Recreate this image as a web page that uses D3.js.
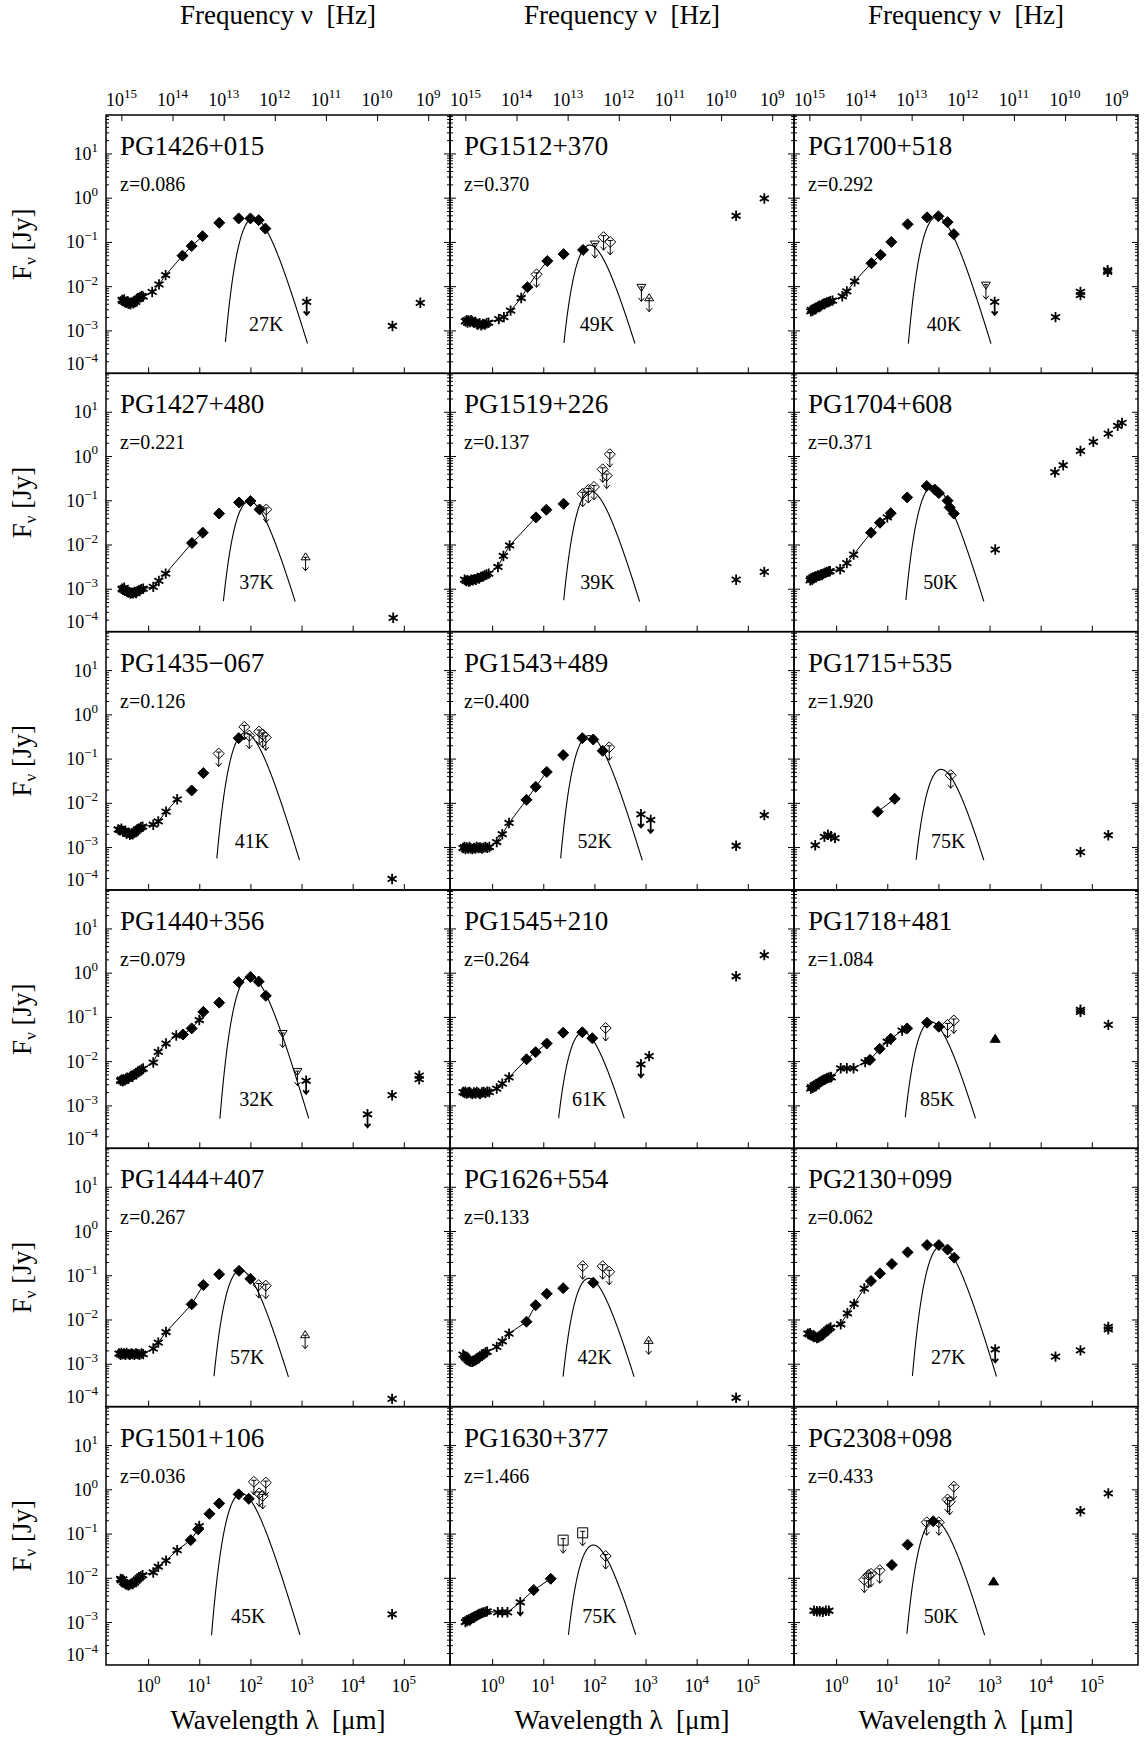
<!DOCTYPE html>
<html>
<head>
<meta charset="utf-8">
<script src="https://cdn.jsdelivr.net/npm/d3@7"></script>
<style>
  html, body { margin: 0; padding: 0; background: #fff; }
  svg text { font-family: "Liberation Serif", "Times New Roman", serif; fill: #000; }
</style>
</head>
<body>
<svg id="chart" width="1147" height="1742"></svg>
<script>
// ---- object list (reading order: 6 rows x 3 columns) ----
const names = ["PG1426+015", "PG1512+370", "PG1700+518",
               "PG1427+480", "PG1519+226", "PG1704+608",
               "PG1435\u2212067", "PG1543+489", "PG1715+535",
               "PG1440+356", "PG1545+210", "PG1718+481",
               "PG1444+407", "PG1626+554", "PG2130+099",
               "PG1501+106", "PG1630+377", "PG2308+098"];
const redshifts = ["0.086", "0.370", "0.292", "0.221", "0.137", "0.371",
                   "0.126", "0.400", "1.920", "0.079", "0.264", "1.084",
                   "0.267", "0.133", "0.062", "0.036", "1.466", "0.433"];
// cold dust temperature of the fitted greybody (K) and its peak flux (Jy)
const dustTemps = [27, 49, 40, 37, 39, 50, 41, 52, 75, 32, 61, 85, 57, 42, 27, 45, 75, 50];
const dustPeaks = [0.35, 0.085, 0.37, 0.095, 0.16, 0.21, 0.38, 0.33, 0.057, 0.85, 0.045, 0.078,
                   0.13, 0.085, 0.46, 0.81, 0.055, 0.20];
// wavelength (um) where each temperature label sits
const labelLambda = [205, 112, 129, 132, 115, 110, 107, 102, 155, 132, 79, 95, 87, 102, 155, 91, 126, 112];

// ---- photometry: [wavelength um, flux Jy, symbol] ----
// ast = asterisk, dia = filled diamond, diaU = open diamond upper limit,
// triDU = open down-triangle upper limit, triUU = open up-triangle upper limit,
// astU = asterisk upper limit, sqU = open square upper limit, triF = filled triangle
const pg1426 = [
  [0.31,4.9e-3,"ast"],[0.32,4.6e-3,"ast"],[0.34,5.0e-3,"ast"],[0.35,4.4e-3,"ast"],[0.37,4.2e-3,"ast"],
  [0.39,4.5e-3,"ast"],[0.41,4.0e-3,"ast"],[0.43,4.2e-3,"ast"],[0.45,3.9e-3,"ast"],[0.48,4.3e-3,"ast"],
  [0.51,4.1e-3,"ast"],[0.54,4.6e-3,"ast"],[0.57,4.4e-3,"ast"],[0.61,5.0e-3,"ast"],[0.65,5.3e-3,"ast"],
  [0.70,5.7e-3,"ast"],[0.75,6.0e-3,"ast"],[0.80,5.8e-3,"ast"],
  [1.2,7.4e-3,"ast"],[1.63,0.011,"ast"],[2.2,0.0178,"ast"],
  [4.7,0.049,"dia"],[7.1,0.081,"dia"],[11.6,0.135,"dia"],[24.6,0.27,"dia"],[59,0.34,"dia"],
  [100,0.34,"dia"],[145,0.31,"dia"],[196,0.20,"dia"],
  [1260,4.4e-3,"astU"],[6.0e4,1.26e-3,"ast"],[2.1e5,4.2e-3,"ast"]];
const pg1512 = [
  [0.30,1.6e-3,"ast"],[0.32,1.7e-3,"ast"],[0.33,1.5e-3,"ast"],[0.35,1.65e-3,"ast"],[0.37,1.55e-3,"ast"],
  [0.39,1.7e-3,"ast"],[0.41,1.6e-3,"ast"],[0.44,1.5e-3,"ast"],[0.47,1.55e-3,"ast"],[0.50,1.4e-3,"ast"],
  [0.53,1.35e-3,"ast"],[0.57,1.45e-3,"ast"],[0.61,1.3e-3,"ast"],[0.66,1.4e-3,"ast"],[0.72,1.35e-3,"ast"],
  [0.78,1.45e-3,"ast"],[0.85,1.5e-3,"ast"],
  [1.35,1.8e-3,"ast"],[1.7,2.0e-3,"ast"],[2.3,2.8e-3,"ast"],[3.7,5.4e-3,"ast"],
  [4.9,9.5e-3,"dia"],[7.4,0.0185,"diaU"],[12,0.037,"dia"],[25,0.053,"dia"],[60,0.066,"dia"],
  [102,0.085,"triDU"],[151,0.128,"diaU"],[204,0.10,"diaU"],
  [830,8.9e-3,"triDU"],[1175,5.2e-3,"triUU"],[5.9e4,0.39,"ast"],[2.1e5,0.96,"ast"]];
const pg1700 = [
  [0.32,2.7e-3,"ast"],[0.33,2.9e-3,"ast"],[0.35,2.8e-3,"ast"],[0.37,3.1e-3,"ast"],[0.39,3.0e-3,"ast"],
  [0.41,3.3e-3,"ast"],[0.44,3.4e-3,"ast"],[0.47,3.6e-3,"ast"],[0.50,3.5e-3,"ast"],[0.53,3.8e-3,"ast"],
  [0.57,4.0e-3,"ast"],[0.61,4.1e-3,"ast"],[0.66,4.3e-3,"ast"],[0.71,4.4e-3,"ast"],[0.77,4.6e-3,"ast"],
  [0.85,4.7e-3,"ast"],
  [1.32,5.9e-3,"ast"],[1.62,7.6e-3,"ast"],[2.3,0.0129,"ast"],
  [4.9,0.033,"dia"],[7.4,0.051,"dia"],[12,0.10,"dia"],[25,0.25,"dia"],[60,0.36,"dia"],
  [100,0.38,"dia"],[151,0.28,"dia"],[200,0.15,"dia"],
  [850,0.010,"triDU"],[1260,4.4e-3,"astU"],[1.95e4,2.0e-3,"ast"],[6.0e4,7.4e-3,"ast"],[6.0e4,6.3e-3,"ast"],
  [2.04e5,0.023,"ast"],[2.04e5,0.021,"ast"]];
const pg1427 = [
  [0.31,1.0e-3,"ast"],[0.32,9.5e-4,"ast"],[0.34,1.05e-3,"ast"],[0.35,9.2e-4,"ast"],[0.37,9.0e-4,"ast"],
  [0.39,8.6e-4,"ast"],[0.41,8.2e-4,"ast"],[0.43,8.5e-4,"ast"],[0.45,7.8e-4,"ast"],[0.48,8.1e-4,"ast"],
  [0.51,7.9e-4,"ast"],[0.54,8.4e-4,"ast"],[0.58,8.0e-4,"ast"],[0.62,8.8e-4,"ast"],[0.67,9.3e-4,"ast"],
  [0.73,9.8e-4,"ast"],[0.80,1.0e-3,"ast"],
  [1.26,1.1e-3,"ast"],[1.62,1.5e-3,"ast"],[2.2,2.2e-3,"ast"],
  [7.2,0.0108,"dia"],[11.7,0.0185,"dia"],[24.5,0.05,"dia"],[60,0.089,"dia"],[100,0.096,"dia"],
  [151,0.062,"dia"],[204,0.062,"diaU"],
  [1200,5.0e-3,"triUU"],[6.2e4,2.2e-4,"ast"]];
const pg1519 = [
  [0.29,1.6e-3,"ast"],[0.31,1.5e-3,"ast"],[0.33,1.55e-3,"ast"],[0.35,1.45e-3,"ast"],[0.37,1.5e-3,"ast"],
  [0.39,1.6e-3,"ast"],[0.42,1.55e-3,"ast"],[0.45,1.65e-3,"ast"],[0.48,1.6e-3,"ast"],[0.52,1.75e-3,"ast"],
  [0.56,1.7e-3,"ast"],[0.60,1.85e-3,"ast"],[0.65,1.9e-3,"ast"],[0.71,2.0e-3,"ast"],[0.78,2.1e-3,"ast"],
  [0.86,2.2e-3,"ast"],
  [1.3,3.1e-3,"ast"],[1.66,5.5e-3,"ast"],[2.2,9.5e-3,"ast"],
  [7.2,0.041,"dia"],[11.5,0.061,"dia"],[25,0.083,"dia"],
  [59,0.14,"diaU"],[76,0.17,"diaU"],[98,0.20,"diaU"],[145,0.50,"diaU"],[174,0.36,"diaU"],[200,1.1,"diaU"],
  [5.9e4,1.6e-3,"ast"],[2.1e5,2.4e-3,"ast"]];
const pg1704 = [
  [0.31,1.55e-3,"ast"],[0.32,1.7e-3,"ast"],[0.34,1.6e-3,"ast"],[0.35,1.8e-3,"ast"],[0.37,1.75e-3,"ast"],
  [0.39,1.9e-3,"ast"],[0.41,1.85e-3,"ast"],[0.44,2.0e-3,"ast"],[0.47,1.95e-3,"ast"],[0.50,2.1e-3,"ast"],
  [0.53,2.05e-3,"ast"],[0.57,2.2e-3,"ast"],[0.61,2.3e-3,"ast"],[0.66,2.4e-3,"ast"],[0.72,2.45e-3,"ast"],
  [0.76,2.5e-3,"ast"],
  [1.2,2.75e-3,"ast"],[1.62,3.8e-3,"ast"],[2.2,5.9e-3,"ast"],
  [4.8,0.0185,"dia"],[7.2,0.031,"dia"],[10,0.041,"ast"],[11.7,0.051,"dia"],[24.5,0.116,"dia"],
  [59,0.21,"dia"],[85,0.174,"dia"],[102,0.145,"dia"],[151,0.098,"dia"],[166,0.069,"dia"],[200,0.05,"dia"],
  [1290,7.7e-3,"ast"],
  [1.9e4,0.43,"ast"],[2.75e4,0.62,"ast"],[6.0e4,1.3,"ast"],[1.07e5,2.1,"ast"],[2.1e5,3.2,"ast"],
  [3.2e5,4.8,"ast"],[3.9e5,5.6,"ast"]];
const pg1435 = [
  [0.26,2.5e-3,"ast"],[0.28,2.4e-3,"ast"],[0.30,2.6e-3,"ast"],[0.32,2.3e-3,"ast"],[0.34,2.2e-3,"ast"],
  [0.36,2.3e-3,"ast"],[0.38,2.0e-3,"ast"],[0.41,2.1e-3,"ast"],[0.44,1.9e-3,"ast"],[0.47,2.0e-3,"ast"],
  [0.50,1.95e-3,"ast"],[0.54,2.1e-3,"ast"],[0.58,2.3e-3,"ast"],[0.62,2.5e-3,"ast"],[0.67,2.6e-3,"ast"],
  [0.72,2.8e-3,"ast"],[0.78,2.9e-3,"ast"],
  [1.26,3.2e-3,"ast"],[1.58,3.8e-3,"ast"],[2.24,6.3e-3,"ast"],[3.7,0.012,"ast"],
  [7.1,0.019,"dia"],[12,0.047,"dia"],[24,0.13,"diaU"],[59,0.29,"dia"],
  [76,0.52,"diaU"],[95,0.33,"diaU"],[148,0.41,"diaU"],[174,0.35,"diaU"],[200,0.30,"diaU"],
  [5.9e4,1.9e-4,"ast"]];
const pg1543 = [
  [0.27,9.5e-4,"ast"],[0.29,1.0e-3,"ast"],[0.30,9.0e-4,"ast"],[0.32,9.8e-4,"ast"],[0.34,9.2e-4,"ast"],
  [0.36,1.0e-3,"ast"],[0.38,9.4e-4,"ast"],[0.41,9.0e-4,"ast"],[0.44,9.6e-4,"ast"],[0.47,9.2e-4,"ast"],
  [0.50,1.0e-3,"ast"],[0.54,9.5e-4,"ast"],[0.58,9.8e-4,"ast"],[0.63,9.3e-4,"ast"],[0.68,9.7e-4,"ast"],
  [0.74,1.0e-3,"ast"],[0.80,9.6e-4,"ast"],[0.88,1.0e-3,"ast"],
  [1.23,1.3e-3,"ast"],[1.58,1.95e-3,"ast"],[2.14,3.5e-3,"ast"],
  [4.7,0.0117,"dia"],[7.1,0.023,"dia"],[11.7,0.05,"dia"],[24.5,0.12,"dia"],[58,0.29,"dia"],
  [95,0.27,"dia"],[145,0.15,"dia"],[195,0.18,"diaU"],
  [813,5.5e-3,"astU"],[1260,4.1e-3,"astU"],[5.9e4,1.07e-3,"ast"],[2.1e5,5.3e-3,"ast"]];
const pg1715 = [
  [0.39,1.1e-3,"ast"],[0.59,1.7e-3,"ast"],[0.69,1.9e-3,"ast"],[0.79,1.75e-3,"ast"],[0.95,1.6e-3,"ast"],
  [6.5,6.3e-3,"dia"],[14,0.0123,"dia"],[174,0.042,"diaU"],
  [6.0e4,7.7e-4,"ast"],[2.1e5,1.85e-3,"ast"]];
const pg1440 = [
  [0.29,3.6e-3,"ast"],[0.30,3.8e-3,"ast"],[0.32,3.5e-3,"ast"],[0.33,3.9e-3,"ast"],[0.35,3.7e-3,"ast"],
  [0.37,4.0e-3,"ast"],[0.39,4.2e-3,"ast"],[0.41,4.0e-3,"ast"],[0.44,4.4e-3,"ast"],[0.47,4.6e-3,"ast"],
  [0.50,4.5e-3,"ast"],[0.54,5.0e-3,"ast"],[0.58,5.3e-3,"ast"],[0.63,5.6e-3,"ast"],[0.68,6.0e-3,"ast"],
  [0.74,6.5e-3,"ast"],[0.80,6.8e-3,"ast"],
  [1.26,9.3e-3,"ast"],[1.58,0.0162,"ast"],[2.24,0.025,"ast"],[3.55,0.038,"ast"],
  [4.8,0.04,"dia"],[7.1,0.055,"dia"],[10,0.085,"ast"],[12,0.13,"dia"],[24.5,0.21,"dia"],
  [59,0.61,"dia"],[100,0.8,"dia"],[145,0.63,"dia"],[200,0.30,"dia"],
  [427,0.04,"triDU"],[832,5.5e-3,"triDU"],[1230,3.6e-3,"astU"],[1.95e4,6.3e-4,"astU"],
  [5.9e4,1.7e-3,"ast"],[2.0e5,4.7e-3,"ast"],[2.0e5,3.9e-3,"ast"]];
const pg1545 = [
  [0.27,2.0e-3,"ast"],[0.29,1.9e-3,"ast"],[0.30,2.05e-3,"ast"],[0.32,1.85e-3,"ast"],[0.34,1.95e-3,"ast"],
  [0.36,2.0e-3,"ast"],[0.38,1.9e-3,"ast"],[0.41,1.8e-3,"ast"],[0.44,1.95e-3,"ast"],[0.47,1.85e-3,"ast"],
  [0.50,2.0e-3,"ast"],[0.54,1.9e-3,"ast"],[0.58,1.8e-3,"ast"],[0.63,1.95e-3,"ast"],[0.68,2.0e-3,"ast"],
  [0.74,1.9e-3,"ast"],[0.80,2.05e-3,"ast"],[0.88,2.0e-3,"ast"],
  [1.23,2.4e-3,"ast"],[1.58,3.1e-3,"ast"],[2.14,4.3e-3,"ast"],
  [4.7,0.011,"dia"],[7.1,0.016,"dia"],[11.7,0.025,"dia"],[24.5,0.044,"dia"],[58,0.045,"dia"],
  [91,0.033,"dia"],[166,0.056,"diaU"],
  [813,8.5e-3,"astU"],[1175,0.013,"ast"],[5.9e4,0.83,"ast"],[2.1e5,2.5,"ast"]];
const pg1718 = [
  [0.32,2.4e-3,"ast"],[0.33,2.6e-3,"ast"],[0.35,2.5e-3,"ast"],[0.37,2.8e-3,"ast"],[0.39,2.7e-3,"ast"],
  [0.41,3.0e-3,"ast"],[0.44,3.1e-3,"ast"],[0.47,3.3e-3,"ast"],[0.50,3.4e-3,"ast"],[0.53,3.6e-3,"ast"],
  [0.57,3.8e-3,"ast"],[0.61,3.9e-3,"ast"],[0.66,4.1e-3,"ast"],[0.71,4.2e-3,"ast"],[0.77,4.4e-3,"ast"],
  [0.80,4.3e-3,"ast"],
  [1.23,6.9e-3,"ast"],[1.62,6.9e-3,"ast"],[2.19,6.9e-3,"ast"],[3.7,9.5e-3,"ast"],
  [4.6,0.0107,"dia"],[7.1,0.019,"dia"],[10,0.0275,"ast"],[11.7,0.032,"dia"],[19.5,0.049,"ast"],
  [24.5,0.055,"dia"],[60,0.074,"dia"],[102,0.060,"dia"],[151,0.066,"diaU"],[200,0.083,"diaU"],
  [1290,0.032,"triF"],[6.0e4,0.145,"ast"],[6.0e4,0.13,"ast"],[2.1e5,0.066,"ast"]];
const pg1444 = [
  [0.27,1.7e-3,"ast"],[0.29,1.6e-3,"ast"],[0.30,1.75e-3,"ast"],[0.32,1.65e-3,"ast"],[0.34,1.7e-3,"ast"],
  [0.36,1.6e-3,"ast"],[0.38,1.75e-3,"ast"],[0.41,1.65e-3,"ast"],[0.44,1.6e-3,"ast"],[0.47,1.7e-3,"ast"],
  [0.50,1.65e-3,"ast"],[0.54,1.6e-3,"ast"],[0.58,1.7e-3,"ast"],[0.63,1.65e-3,"ast"],[0.68,1.6e-3,"ast"],
  [0.74,1.7e-3,"ast"],[0.80,1.65e-3,"ast"],
  [1.26,2.2e-3,"ast"],[1.58,3.0e-3,"ast"],[2.24,5.2e-3,"ast"],
  [7.1,0.022,"dia"],[12,0.06,"dia"],[24.5,0.105,"dia"],[60,0.126,"dia"],[100,0.083,"dia"],
  [145,0.06,"diaU"],[200,0.058,"diaU"],
  [1175,4.3e-3,"triUU"],[5.9e4,1.6e-4,"ast"]];
const pg1626 = [
  [0.27,1.6e-3,"ast"],[0.29,1.5e-3,"ast"],[0.30,1.4e-3,"ast"],[0.32,1.3e-3,"ast"],[0.34,1.2e-3,"ast"],
  [0.36,1.15e-3,"ast"],[0.38,1.1e-3,"ast"],[0.41,1.1e-3,"ast"],[0.44,1.15e-3,"ast"],[0.47,1.2e-3,"ast"],
  [0.50,1.3e-3,"ast"],[0.54,1.35e-3,"ast"],[0.58,1.45e-3,"ast"],[0.63,1.55e-3,"ast"],[0.68,1.65e-3,"ast"],
  [0.74,1.8e-3,"ast"],[0.80,1.85e-3,"ast"],
  [1.23,2.4e-3,"ast"],[1.58,3.2e-3,"ast"],[2.14,4.8e-3,"ast"],
  [4.7,8.9e-3,"dia"],[7.1,0.021,"dia"],[11.7,0.038,"dia"],[24.5,0.051,"dia"],[59,0.16,"diaU"],
  [95,0.068,"dia"],[145,0.16,"diaU"],[195,0.12,"diaU"],
  [1150,3.2e-3,"triUU"],[5.9e4,1.7e-4,"ast"]];
const pg2130 = [
  [0.28,4.8e-3,"ast"],[0.30,4.6e-3,"ast"],[0.31,4.9e-3,"ast"],[0.33,4.4e-3,"ast"],[0.35,4.2e-3,"ast"],
  [0.37,4.0e-3,"ast"],[0.39,4.1e-3,"ast"],[0.42,3.8e-3,"ast"],[0.45,3.9e-3,"ast"],[0.48,4.1e-3,"ast"],
  [0.51,4.4e-3,"ast"],[0.55,4.7e-3,"ast"],[0.59,5.0e-3,"ast"],[0.63,5.4e-3,"ast"],[0.68,5.8e-3,"ast"],
  [0.73,6.2e-3,"ast"],[0.78,6.6e-3,"ast"],
  [1.23,7.8e-3,"ast"],[1.66,0.0138,"ast"],[2.24,0.0224,"ast"],[3.55,0.050,"ast"],
  [4.8,0.074,"dia"],[7.2,0.11,"dia"],[12.3,0.18,"dia"],[25,0.33,"dia"],[60,0.48,"dia"],
  [102,0.48,"dia"],[151,0.38,"dia"],[204,0.25,"dia"],
  [1290,2.1e-3,"astU"],[1.95e4,1.45e-3,"ast"],[6.0e4,2.0e-3,"ast"],[2.1e5,6.8e-3,"ast"],[2.1e5,6.0e-3,"ast"]];
const pg1501 = [
  [0.29,9.4e-3,"ast"],[0.30,8.8e-3,"ast"],[0.32,9.2e-3,"ast"],[0.33,8.0e-3,"ast"],[0.35,7.5e-3,"ast"],
  [0.37,7.0e-3,"ast"],[0.39,7.2e-3,"ast"],[0.41,6.8e-3,"ast"],[0.44,7.0e-3,"ast"],[0.47,7.4e-3,"ast"],
  [0.50,7.2e-3,"ast"],[0.54,7.8e-3,"ast"],[0.58,8.5e-3,"ast"],[0.62,9.2e-3,"ast"],[0.67,0.010,"ast"],
  [0.72,0.0108,"ast"],[0.78,0.0115,"ast"],
  [1.26,0.0132,"ast"],[1.58,0.0178,"ast"],[2.24,0.0245,"ast"],[3.7,0.042,"ast"],
  [6.8,0.071,"dia"],[9.5,0.125,"dia"],[10,0.148,"ast"],[15.8,0.28,"dia"],[24.5,0.48,"dia"],
  [59,0.77,"dia"],[93,0.61,"dia"],
  [117,1.48,"diaU"],[148,0.81,"diaU"],[174,0.71,"diaU"],[200,1.42,"diaU"],
  [5.9e4,1.5e-3,"ast"]];
const pg1630 = [
  [0.30,1.0e-3,"ast"],[0.32,1.1e-3,"ast"],[0.33,1.05e-3,"ast"],[0.35,1.15e-3,"ast"],[0.37,1.1e-3,"ast"],
  [0.39,1.2e-3,"ast"],[0.41,1.25e-3,"ast"],[0.44,1.3e-3,"ast"],[0.47,1.35e-3,"ast"],[0.50,1.4e-3,"ast"],
  [0.54,1.5e-3,"ast"],[0.58,1.55e-3,"ast"],[0.63,1.6e-3,"ast"],[0.68,1.65e-3,"ast"],[0.74,1.7e-3,"ast"],
  [0.80,1.75e-3,"ast"],
  [1.29,1.66e-3,"ast"],[1.58,1.66e-3,"ast"],[2.0,1.66e-3,"ast"],[3.55,2.8e-3,"astU"],
  [6.5,5.3e-3,"dia"],[14,9.5e-3,"dia"],[24.5,0.071,"sqU"],[59,0.104,"sqU"],[166,0.031,"diaU"]];
const pg2308 = [
  [0.37,1.8e-3,"ast"],[0.42,1.75e-3,"ast"],[0.48,1.75e-3,"ast"],[0.55,1.7e-3,"ast"],[0.63,1.8e-3,"ast"],
  [0.72,1.8e-3,"ast"],
  [3.55,9.1e-3,"diaU"],[4.3,0.0115,"diaU"],[4.8,0.0123,"diaU"],[7.1,0.0148,"diaU"],
  [12.3,0.0195,"dia"],[25,0.056,"dia"],[59,0.18,"diaU"],[79,0.19,"dia"],[102,0.18,"diaU"],
  [151,0.59,"diaU"],[166,0.52,"diaU"],[200,1.15,"diaU"],
  [1200,8.3e-3,"triF"],[6.0e4,0.32,"ast"],[2.1e5,0.81,"ast"]];

// ---- near/mid-IR segments joined by a thin line: [wavelength um, flux Jy] ----
const pg1426Line = [[0.80,5.8e-3],[1.2,7.4e-3],[1.63,0.011],[2.2,0.0178],[4.7,0.049],[7.1,0.081],[11.6,0.135]];
const pg1512Line = [[0.85,1.5e-3],[1.35,1.8e-3],[1.7,2.0e-3],[2.3,2.8e-3],[3.7,5.4e-3],[4.9,9.5e-3],[7.4,0.0185],[12,0.037]];
const pg1700Line = [[0.85,4.7e-3],[1.32,5.9e-3],[1.62,7.6e-3],[2.3,0.0129],[4.9,0.033],[7.4,0.051]];
const pg1427Line = [[0.80,1.0e-3],[1.26,1.1e-3],[1.62,1.5e-3],[2.2,2.2e-3],[7.2,0.0108],[11.7,0.0185]];
const pg1519Line = [[0.86,2.2e-3],[1.3,3.1e-3],[1.66,5.5e-3],[2.2,9.5e-3],[7.2,0.041]];
const pg1704Line = [[0.76,2.5e-3],[1.2,2.75e-3],[1.62,3.8e-3],[2.2,5.9e-3],[4.8,0.0185],[7.2,0.031],[10,0.041],[11.7,0.051]];
const pg1435Line = [[0.78,2.9e-3],[1.26,3.2e-3],[1.58,3.8e-3],[2.24,6.3e-3],[3.7,0.012]];
const pg1543Line = [[0.88,1.0e-3],[1.23,1.3e-3],[1.58,1.95e-3],[2.14,3.5e-3],[4.7,0.0117],[7.1,0.023],[11.7,0.05]];
const pg1715Line = [[6.5,6.3e-3],[14,0.0123]];
const pg1440Line = [[0.80,6.8e-3],[1.26,9.3e-3],[1.58,0.0162],[2.24,0.025],[3.55,0.038],[4.8,0.04],[7.1,0.055],[10,0.085],[12,0.13]];
const pg1545Line = [[0.88,2.0e-3],[1.23,2.4e-3],[1.58,3.1e-3],[2.14,4.3e-3],[4.7,0.011],[7.1,0.016],[11.7,0.025]];
const pg1718Line = [[0.80,4.3e-3],[1.23,6.9e-3],[1.62,6.9e-3],[2.19,6.9e-3],[3.7,9.5e-3],[4.6,0.0107],[7.1,0.019],[10,0.0275],[11.7,0.032],[19.5,0.049],[24.5,0.055]];
const pg1444Line = [[0.80,1.65e-3],[1.26,2.2e-3],[1.58,3.0e-3],[2.24,5.2e-3],[7.1,0.022],[12,0.06]];
const pg1626Line = [[0.80,1.85e-3],[1.23,2.4e-3],[1.58,3.2e-3],[2.14,4.8e-3],[4.7,8.9e-3],[7.1,0.021]];
const pg2130Line = [[0.78,6.6e-3],[1.23,7.8e-3],[1.66,0.0138],[2.24,0.0224],[3.55,0.050],[4.8,0.074]];
const pg1501Line = [[0.78,0.0115],[1.26,0.0132],[1.58,0.0178],[2.24,0.0245],[3.7,0.042],[6.8,0.071],[9.5,0.125],[10,0.148]];
const pg1630Line = [[0.80,1.75e-3],[1.29,1.66e-3],[1.58,1.66e-3],[2.0,1.66e-3],[3.55,2.8e-3],[6.5,5.3e-3],[14,9.5e-3]];
const pg2308Line = [];

const seds = [pg1426, pg1512, pg1700, pg1427, pg1519, pg1704, pg1435, pg1543, pg1715,
              pg1440, pg1545, pg1718, pg1444, pg1626, pg2130, pg1501, pg1630, pg2308];
const sedLines = [pg1426Line, pg1512Line, pg1700Line, pg1427Line, pg1519Line, pg1704Line,
                  pg1435Line, pg1543Line, pg1715Line, pg1440Line, pg1545Line, pg1718Line,
                  pg1444Line, pg1626Line, pg2130Line, pg1501Line, pg1630Line, pg2308Line];

// ---- axis ticks ----
const lambdaTicks = [1, 10, 100, 1e3, 1e4, 1e5];
const nuTicks = [1e15, 1e14, 1e13, 1e12, 1e11, 1e10, 1e9];
const fluxTicks = [10, 1, 0.1, 0.01, 1e-3, 1e-4];

// ---- layout ----
const svg = d3.select("#chart");
const X0 = 106, Y0 = 115, PW = 344, PH = 258.33;
const lamDomain = [0.15, 8e5];
const fluxDomain = [1.07e-4, 74];
const C_UM = 2.998e14;          // speed of light in um/s
const HC_K = 14388;             // hc/k in um*K

const expo = v => Math.round(Math.log10(v));
const supText = e => (e < 0 ? "\u2212" + (-e) : String(e));

function powerLabel(sel, x, y, e, anchor, size, supSize) {
  const t = sel.append("text").attr("x", x).attr("y", y)
    .attr("text-anchor", anchor).style("font-size", size + "px");
  t.append("tspan").text("10");
  t.append("tspan").attr("dy", -0.45 * size).style("font-size", supSize + "px").text(supText(e));
  return t;
}

// greybody (beta = 2) in the observed frame
const g5 = x => Math.pow(x, 5) / Math.expm1(x);
function greybody(T, z, peak) {
  const Tobs = T / (1 + z);
  const norm = peak / g5(4.965);
  const pts = [];
  for (let lg = 0.6; lg <= 4.0; lg += 0.004) {
    const lam = Math.pow(10, lg);
    const f = norm * g5(HC_K / (lam * Tobs));
    if (f >= 5e-4) pts.push([lam, f]);
  }
  return pts;
}

function symbolPath(s, px, py) {
  const p = d3.path();
  const arrow = (x0, y0) => {            // downward upper-limit arrow
    p.moveTo(x0, y0); p.lineTo(x0, py + 13);
    p.moveTo(x0 - 3, py + 9.5); p.lineTo(x0, py + 13); p.lineTo(x0 + 3, py + 9.5);
  };
  const star = () => {
    p.moveTo(px, py - 5.2); p.lineTo(px, py + 5.2);
    p.moveTo(px - 4.5, py - 2.6); p.lineTo(px + 4.5, py + 2.6);
    p.moveTo(px - 4.5, py + 2.6); p.lineTo(px + 4.5, py - 2.6);
  };
  switch (s) {
    case "ast": star(); break;
    case "astU": star(); arrow(px, py); break;
    case "dia":
      p.moveTo(px, py - 5.5); p.lineTo(px + 5.5, py); p.lineTo(px, py + 5.5); p.lineTo(px - 5.5, py); p.closePath();
      break;
    case "diaU":
      p.moveTo(px, py - 5.5); p.lineTo(px + 5.5, py); p.lineTo(px, py + 5.5); p.lineTo(px - 5.5, py); p.closePath();
      p.moveTo(px - 2.5, py - 1.5); p.lineTo(px + 2.5, py - 1.5);
      arrow(px, py - 1.5); break;
    case "triDU":
      p.moveTo(px - 4.5, py - 4); p.lineTo(px + 4.5, py - 4); p.lineTo(px, py + 3); p.closePath();
      p.moveTo(px - 2, py - 1.5); p.lineTo(px + 2, py - 1.5);
      arrow(px, py - 1.5); break;
    case "triUU":
      p.moveTo(px - 4.5, py + 2); p.lineTo(px + 4.5, py + 2); p.lineTo(px, py - 5); p.closePath();
      p.moveTo(px - 2, py - 0.5); p.lineTo(px + 2, py - 0.5);
      arrow(px, py - 0.5); break;
    case "sqU":
      p.rect(px - 5, py - 5, 10, 10);
      p.moveTo(px - 2.5, py - 1.5); p.lineTo(px + 2.5, py - 1.5);
      arrow(px, py - 1.5); break;
    case "triF":
      p.moveTo(px - 5, py + 3.5); p.lineTo(px + 5, py + 3.5); p.lineTo(px, py - 4.5); p.closePath();
      break;
  }
  return p.toString();
}
const filled = s => s === "dia" || s === "triF";
const starred = s => s === "ast" || s === "astU";

const defs = svg.append("defs");

names.forEach((name, i) => {
  const r = Math.floor(i / 3), c = i % 3;
  const L = X0 + c * PW, T = Y0 + r * PH;
  const x = d3.scaleLog().domain(lamDomain).range([L, L + PW]);
  const y = d3.scaleLog().domain(fluxDomain).range([T + PH, T]);
  const g = svg.append("g");

  defs.append("clipPath").attr("id", "clip" + i)
    .append("rect").attr("x", L).attr("y", T).attr("width", PW).attr("height", PH);
  const plot = g.append("g").attr("clip-path", "url(#clip" + i + ")");

  // greybody
  const line = d3.line().x(d => x(d[0])).y(d => y(d[1]));
  plot.append("path").datum(greybody(dustTemps[i], +redshifts[i], dustPeaks[i]))
    .attr("d", line).attr("fill", "none").attr("stroke", "#000").attr("stroke-width", 1.1);

  // photometric segment line
  if (sedLines[i].length)
    plot.append("path").datum(sedLines[i]).attr("d", line)
      .attr("fill", "none").attr("stroke", "#000").attr("stroke-width", 1);

  // data symbols
  plot.selectAll("path.pt").data(seds[i]).join("path").attr("class", "pt")
    .attr("d", d => symbolPath(d[2], x(d[0]), y(d[1])))
    .attr("fill", d => filled(d[2]) ? "#000" : "none")
    .attr("stroke", "#000").attr("stroke-width", d => starred(d[2]) ? 1.8 : 1);

  // ticks
  const minor = [];
  for (let k = -4; k <= 1; k++) for (let m = 2; m <= 9; m++) {
    const v = m * Math.pow(10, k);
    if (v > fluxDomain[0] && v < fluxDomain[1]) minor.push(v);
  }
  const tickStyle = sel => { sel.select(".domain").remove(); sel.selectAll("line").attr("stroke", "#000").attr("stroke-width", 1); sel.selectAll("text").remove(); };
  g.append("g").attr("transform", `translate(${L},0)`)
    .call(d3.axisLeft(y).tickValues(fluxTicks.slice(0, 5)).tickSize(-6).tickFormat("")).call(tickStyle);
  g.append("g").attr("transform", `translate(${L},0)`)
    .call(d3.axisLeft(y).tickValues(minor).tickSize(-3).tickFormat("")).call(tickStyle);
  g.append("g").attr("transform", `translate(${L + PW},0)`)
    .call(d3.axisRight(y).tickValues(fluxTicks.slice(0, 5)).tickSize(-6).tickFormat("")).call(tickStyle);
  g.append("g").attr("transform", `translate(${L + PW},0)`)
    .call(d3.axisRight(y).tickValues(minor).tickSize(-3).tickFormat("")).call(tickStyle);
  g.append("g").attr("transform", `translate(0,${T + PH})`)
    .call(d3.axisBottom(x).tickValues(lambdaTicks).tickSize(-6).tickFormat("")).call(tickStyle);

  // frame
  g.append("rect").attr("x", L).attr("y", T).attr("width", PW).attr("height", PH)
    .attr("fill", "none").attr("stroke", "#000").attr("stroke-width", 1.5);

  // labels inside the panel
  g.append("text").attr("x", L + 14).attr("y", T + 40).style("font-size", "27px").text(name);
  g.append("text").attr("x", L + 14).attr("y", T + 76).style("font-size", "20px").text("z=" + redshifts[i]);
  g.append("text").attr("x", x(labelLambda[i])).attr("y", T + 216).attr("text-anchor", "middle")
    .style("font-size", "20px").text(dustTemps[i] + "K");

  // left column: flux labels and axis title
  if (c === 0) {
    fluxTicks.forEach(v => {
      const yy = Math.min(y(v), T + PH - 10);
      powerLabel(g, L - 8, yy + 6.5, expo(v), "end", 18, 13);
    });
    const ty = T + PH / 2;
    const t = g.append("text").attr("transform", `translate(31,${ty}) rotate(-90)`)
      .attr("text-anchor", "middle").style("font-size", "27px");
    t.append("tspan").text("F");
    t.append("tspan").attr("dy", 5).style("font-size", "17px").text("\u03bd");
    t.append("tspan").attr("dy", -5).text(" [Jy]");
  }

  // top row: frequency axis
  if (r === 0) {
    const xnu = nu => x(C_UM / nu);
    g.append("g").attr("transform", `translate(0,${T})`)
      .call(d3.axisTop(d3.scaleLog().domain([C_UM / lamDomain[0], C_UM / lamDomain[1]]).range([L, L + PW]))
        .tickValues(nuTicks).tickSize(-6).tickFormat("")).call(tickStyle);
    nuTicks.forEach(nu => powerLabel(g, xnu(nu), T - 9, expo(nu), "middle", 18, 13));
    g.append("text").attr("x", L + PW / 2).attr("y", 24).attr("text-anchor", "middle")
      .style("font-size", "27px").style("white-space", "pre").text("Frequency \u03bd  [Hz]");
  }

  // bottom row: wavelength axis
  if (r === 5) {
    lambdaTicks.forEach(v => powerLabel(g, x(v), T + PH + 27, expo(v), "middle", 18, 13));
    g.append("text").attr("x", L + PW / 2).attr("y", 1729).attr("text-anchor", "middle")
      .style("font-size", "27px").style("white-space", "pre").text("Wavelength \u03bb  [\u03bcm]");
  }
});
</script>
</body>
</html>
